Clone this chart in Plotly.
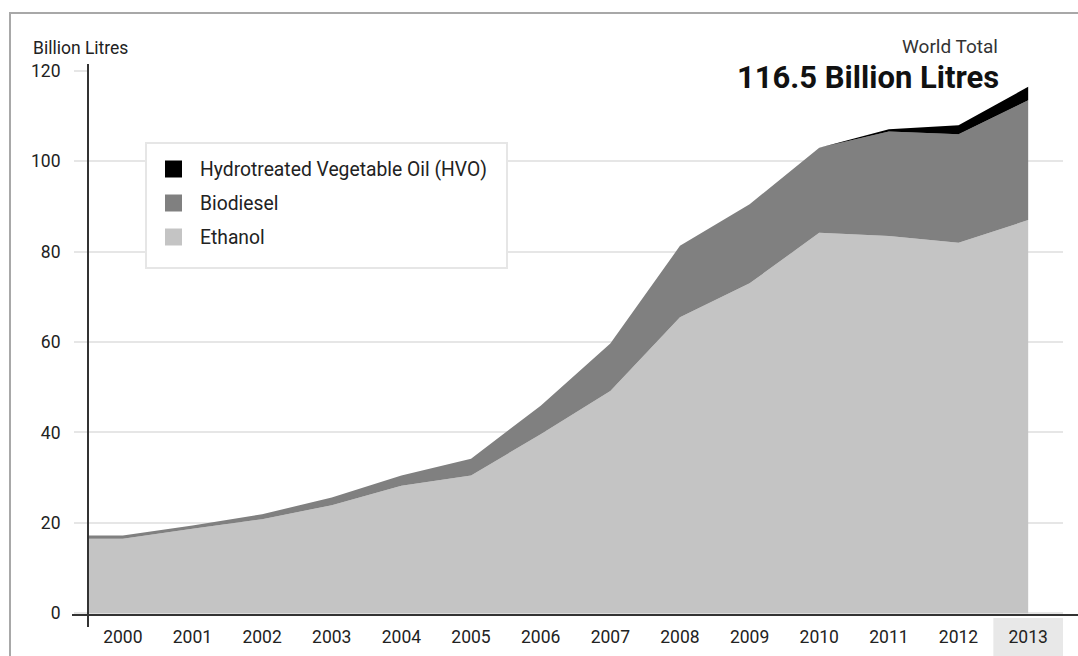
import plotly.graph_objects as go

# World biofuel production, billion litres
years = [2000, 2001, 2002, 2003, 2004, 2005, 2006, 2007, 2008, 2009, 2010, 2011, 2012, 2013]
ethanol = [16.5, 18.7, 20.8, 23.9, 28.2, 30.5, 39.6, 49.2, 65.5, 73.0, 84.2, 83.5, 82.0, 87.0]
biodiesel = [0.7, 0.7, 1.1, 1.7, 2.3, 3.7, 6.3, 10.5, 15.8, 17.5, 18.8, 23.1, 24.0, 26.5]
hvo = [0, 0, 0, 0, 0, 0, 0, 0, 0, 0, 0, 0.5, 2.0, 3.0]

series_names = ["Ethanol", "Biodiesel", "Hydrotreated Vegetable Oil (HVO)"]
series_colors = ["#c4c4c4", "#808080", "#000000"]
y_ticks = [0, 20, 40, 60, 80, 100, 120]
x_tick_labels = [str(y) for y in years]

total_label = "116.5 Billion Litres"
highlight_year = 2013

FONT = "Roboto"
TEXT = "#222222"

W, H = 1078, 656
ML, MR, MT, MB = 88, 15, 71, 41
PW, PH = W - ML - MR, H - MT - MB
X_MIN, X_MAX = years[0] - 0.5, years[-1] + 0.5


def px_x(px):
    return (px - ML) / PW


def px_y(py):
    return (H - MB - py) / PH


def hold_left(values):
    # carry the first year's level back to the left edge of the axis
    return [values[0]] + list(values)


x_vals = [X_MIN] + years

fig = go.Figure()
for name, vals, col in zip(series_names, [ethanol, biodiesel, hvo], series_colors):
    fig.add_trace(go.Scatter(
        x=x_vals, y=hold_left(vals), name=name, mode="lines",
        stackgroup="fuel", line=dict(width=0, color=col), fillcolor=col,
        showlegend=False, hoverinfo="x+y+name",
    ))

shapes = []
# highlighted final-year tick label band
shapes.append(dict(type="rect", xref="x", yref="paper",
                   x0=highlight_year - 0.5, x1=highlight_year + 0.5,
                   y0=px_y(656), y1=px_y(618), fillcolor="#e8e8e8",
                   line=dict(width=0), layer="below"))
# frame
shapes.append(dict(type="line", xref="paper", yref="paper",
                   x0=px_x(10), x1=px_x(10), y0=px_y(656), y1=px_y(13),
                   line=dict(color="#a8a8a8", width=2)))
shapes.append(dict(type="line", xref="paper", yref="paper",
                   x0=px_x(9), x1=px_x(1078), y0=px_y(13), y1=px_y(13),
                   line=dict(color="#a8a8a8", width=2)))
# axis lines
shapes.append(dict(type="line", xref="paper", yref="paper",
                   x0=px_x(72), x1=px_x(1078), y0=px_y(615), y1=px_y(615),
                   line=dict(color="#333333", width=2)))
shapes.append(dict(type="line", xref="paper", yref="paper",
                   x0=px_x(88), x1=px_x(88), y0=px_y(627), y1=px_y(64),
                   line=dict(color="#333333", width=2)))
# legend box
shapes.append(dict(type="rect", xref="paper", yref="paper",
                   x0=px_x(146), x1=px_x(507), y0=px_y(268), y1=px_y(143),
                   fillcolor="white", line=dict(color="#e6e6e6", width=2),
                   layer="above"))

annotations = []
legend_rows = [169, 203, 237]
for row_y, name, col in zip(legend_rows, series_names[::-1], series_colors[::-1]):
    shapes.append(dict(type="rect", xref="paper", yref="paper",
                       x0=px_x(165), x1=px_x(182), y0=px_y(row_y + 8.5), y1=px_y(row_y - 8.5),
                       fillcolor=col, line=dict(width=0), layer="above"))
    annotations.append(dict(text=name, xref="paper", yref="paper",
                            x=px_x(198), y=px_y(row_y), xanchor="left", yanchor="middle",
                            showarrow=False, font=dict(family=FONT, size=19.3, color=TEXT)))

annotations.append(dict(text="Billion Litres", xref="paper", yref="paper",
                        x=px_x(31), y=px_y(48), xanchor="left", yanchor="middle",
                        showarrow=False, font=dict(family=FONT, size=17.5, color=TEXT)))
annotations.append(dict(text="World Total", xref="paper", yref="paper",
                        x=px_x(1000), y=px_y(46), xanchor="right", yanchor="middle",
                        showarrow=False, font=dict(family=FONT, size=19, color="#333333")))
annotations.append(dict(text="<b>" + total_label + "</b>", xref="paper", yref="paper",
                        x=px_x(1000), y=px_y(78), xanchor="right", yanchor="middle",
                        showarrow=False, bgcolor="white", borderpad=0,
                        font=dict(family=FONT, size=31, color="#111111")))

fig.update_layout(
    width=W, height=H, autosize=False,
    margin=dict(l=ML, r=MR, t=MT, b=MB, autoexpand=False),
    paper_bgcolor="white", plot_bgcolor="white",
    showlegend=False,
    shapes=shapes, annotations=annotations,
    xaxis=dict(range=[X_MIN, X_MAX], tickmode="array", tickvals=years,
               ticktext=x_tick_labels, showgrid=False, zeroline=False,
               showline=False, ticks="", ticklabelstandoff=9, automargin=False,
               tickfont=dict(family=FONT, size=17.5, color=TEXT)),
    yaxis=dict(range=[-0.4, 120], tickmode="array", tickvals=y_ticks,
               showgrid=True, gridcolor="#e6e6e6", gridwidth=2,
               zeroline=False, showline=False, automargin=False,
               ticks="outside", ticklen=13, tickwidth=2, tickcolor="#e6e6e6",
               ticklabelstandoff=10,
               tickfont=dict(family=FONT, size=17.5, color=TEXT)),
)

fig.write_html("out.html")
